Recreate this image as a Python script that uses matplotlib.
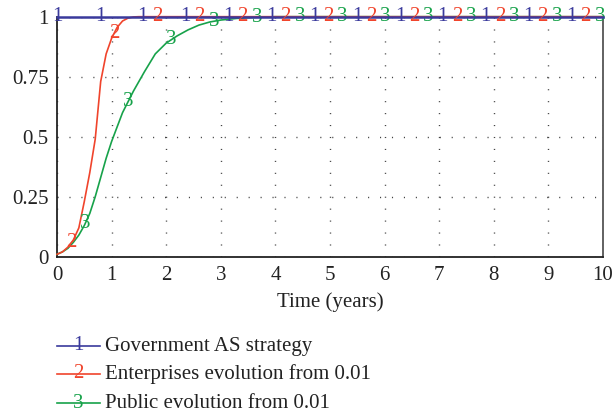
import numpy as np
import matplotlib
matplotlib.use("Agg")
import matplotlib.pyplot as plt
from matplotlib.lines import Line2D

# ---- data ----
gov_t = [0, 1, 2, 3, 4, 5, 6, 7, 8, 9, 10]
gov_v = [1, 1, 1, 1, 1, 1, 1, 1, 1, 1, 1]

ent_t = [0, 0.1, 0.2, 0.3, 0.4, 0.5, 0.6, 0.7, 0.8, 0.9, 1.0, 1.1, 1.2, 1.3, 1.4, 1.5,
         2, 3, 4, 5, 6, 7, 8, 9, 10]
ent_v = [0.01, 0.02, 0.04, 0.07, 0.12, 0.23, 0.35, 0.49, 0.73, 0.845, 0.91, 0.955, 0.982,
         0.994, 0.999, 1.0, 1, 1, 1, 1, 1, 1, 1, 1, 1]

pub_t = [0, 0.1, 0.2, 0.3, 0.4, 0.5, 0.6, 0.7, 0.8, 0.9, 1.0, 1.2, 1.4, 1.6, 1.8, 2.0,
         2.2, 2.4, 2.6, 2.8, 3.0, 3.3, 3.6, 4, 5, 6, 7, 8, 9, 10]
pub_v = [0.01, 0.02, 0.035, 0.06, 0.09, 0.13, 0.18, 0.25, 0.33, 0.41, 0.48, 0.60, 0.69,
         0.77, 0.845, 0.89, 0.92, 0.945, 0.965, 0.978, 0.986, 0.993, 0.997, 1.0, 1, 1, 1, 1, 1, 1]

labels = ["Government AS strategy", "Enterprises evolution from 0.01", "Public evolution from 0.01"]
x_ticks = [0, 1, 2, 3, 4, 5, 6, 7, 8, 9, 10]
y_ticks = [0, 0.25, 0.5, 0.75, 1]
y_ticklabels = ["0", "0.25", "0.5", "0.75", "1"]
x_label = "Time (years)"

colors = ["#3a3a9c", "#f0442c", "#17a24a"]
marks = ["1", "2", "3"]
offsets = [0.0, 0.26, 0.52]
step = 0.785

plt.rcParams['font.family'] = ['Liberation Serif', 'DejaVu Serif']
fs = 15

fig = plt.figure(figsize=(6.13, 4.13), dpi=100)
ax = fig.add_axes([0.093, 0.3785, 0.8907, 0.5811])

series = [(gov_t, gov_v), (ent_t, ent_v), (pub_t, pub_v)]
zs = [5, 4, 3]
for (t, v), c, m, off, z in zip(series, colors, marks, offsets, zs):
    lw = 1.8 if m == "1" else 1.2
    ax.plot(t, v, color=c, lw=lw, zorder=z, clip_on=False)
    tm = off
    while tm <= 10.0:
        vm = np.interp(tm, t, v)
        ax.text(tm, vm, m, color=c, fontsize=fs, ha='center', va='center',
                zorder=z + 1, clip_on=False)
        tm += step

ax.set_xlim(0, 10)
ax.set_ylim(0, 1)
ax.set_xticks(x_ticks)
ax.set_xticklabels([str(x) for x in x_ticks])
ax.set_yticks(y_ticks)
ax.set_yticklabels(y_ticklabels)
ax.tick_params(axis='y', length=0, labelsize=fs, pad=6, colors='#222222')
ax.tick_params(axis='x', length=0, labelsize=fs, pad=7, colors='#222222')
ax.set_xlabel(x_label, fontsize=fs, color='#222222', labelpad=5)

ax.grid(True, color='#444444', linestyle=(0, (0.8, 7.8)), linewidth=1.0)
for s in ['left', 'bottom']:
    ax.spines[s].set_color('#222222')
    ax.spines[s].set_linewidth(1.3)
ax.spines['right'].set_color('#555555')
ax.spines['right'].set_linewidth(1.3)
ax.spines['top'].set_visible(False)

# legend drawn in figure coordinates
ys = [1 - 346 / 413, 1 - 374 / 413, 1 - 403 / 413]
x0, x1 = 57 / 613, 100 / 613
for yy, c, m, lab in zip(ys, colors, marks, labels):
    fig.add_artist(Line2D([x0, x1], [yy, yy], color=c, lw=1.2, transform=fig.transFigure))
    fig.text((x0 + x1) / 2, yy, m, color=c, fontsize=fs, ha='center', va='center')
    fig.text(105 / 613, yy, lab, color='#222222', fontsize=fs, ha='left', va='center')

fig.savefig("out.png", dpi=100)
